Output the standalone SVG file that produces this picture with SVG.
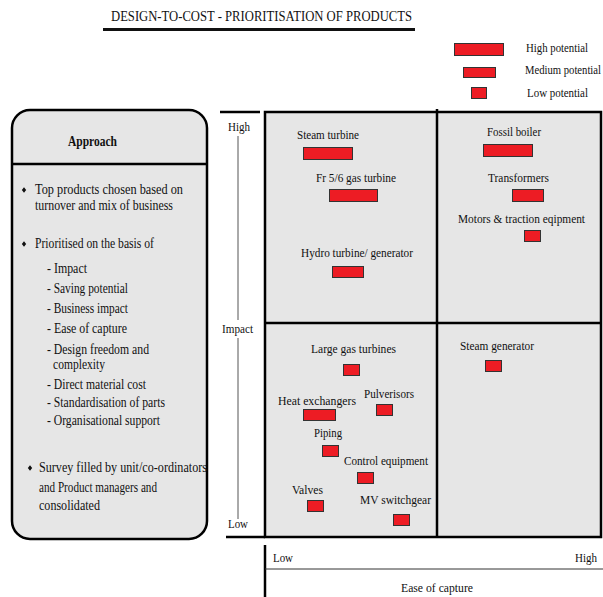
<svg xmlns="http://www.w3.org/2000/svg" width="603" height="597" viewBox="0 0 603 597">
<style>
text{font-family:"Liberation Serif","Times New Roman",serif;fill:#111;}
.t{font-size:14px;}
.m{font-size:13.5px;}
.bar{fill:#ed1c24;stroke:#333;stroke-width:1;}
.thick{stroke:#000;stroke-width:2.5;fill:none;}
.thin{stroke:#555;stroke-width:1;fill:none;}
</style>
<defs>
<polygon id="dia" points="0,-2.8 2.2,0 0,2.8 -2.2,0" fill="#111"/>
</defs>
<rect width="603" height="597" fill="#fff"/>
<g id="title">
<text x="111" y="21" font-size="14.5" textLength="301" lengthAdjust="spacingAndGlyphs">DESIGN-TO-COST  -  PRIORITISATION OF PRODUCTS</text>
<line x1="103" y1="29.5" x2="415" y2="29.5" stroke="#111" stroke-width="3"/>
</g>
<g id="legend">
<rect class="bar" x="454.5" y="43.5" width="49" height="12"/>
<rect class="bar" x="463.5" y="67.5" width="32" height="10"/>
<rect class="bar" x="471.5" y="87.5" width="15" height="11"/>
<text class="m" x="526" y="52" textLength="62" lengthAdjust="spacingAndGlyphs">High potential</text>
<text class="m" x="525" y="74" textLength="76" lengthAdjust="spacingAndGlyphs">Medium potential</text>
<text class="m" x="527" y="97" textLength="61" lengthAdjust="spacingAndGlyphs">Low potential</text>
</g>
<g id="approach">
<rect x="12" y="110" width="195" height="429" rx="18" ry="18" fill="#e6e6e6" stroke="#000" stroke-width="2.5"/>
<line class="thick" x1="12" y1="164" x2="207" y2="164"/>
<text x="68" y="146" font-size="14" font-weight="bold" textLength="49" lengthAdjust="spacingAndGlyphs">Approach</text>
<use href="#dia" x="24" y="190"/>
<text class="t" x="35" y="194" textLength="148" lengthAdjust="spacingAndGlyphs">Top products chosen  based on</text>
<text class="t" x="35" y="210" textLength="138" lengthAdjust="spacingAndGlyphs">turnover and  mix of business</text>
<use href="#dia" x="24" y="244"/>
<text class="t" x="35" y="248" textLength="119" lengthAdjust="spacingAndGlyphs">Prioritised on the basis of</text>
<text class="t" x="47" y="273" textLength="40" lengthAdjust="spacingAndGlyphs">- Impact</text>
<text class="t" x="47" y="293" textLength="81" lengthAdjust="spacingAndGlyphs">- Saving potential</text>
<text class="t" x="47" y="313" textLength="81" lengthAdjust="spacingAndGlyphs">- Business impact</text>
<text class="t" x="47" y="333" textLength="80" lengthAdjust="spacingAndGlyphs">- Ease of capture</text>
<text class="t" x="47" y="354" textLength="102" lengthAdjust="spacingAndGlyphs">- Design freedom and</text>
<text class="t" x="53" y="369" textLength="52" lengthAdjust="spacingAndGlyphs">complexity</text>
<text class="t" x="47" y="389" textLength="99" lengthAdjust="spacingAndGlyphs">- Direct material cost</text>
<text class="t" x="47" y="407" textLength="118" lengthAdjust="spacingAndGlyphs">- Standardisation of parts</text>
<text class="t" x="47" y="425" textLength="113" lengthAdjust="spacingAndGlyphs">- Organisational support</text>
<use href="#dia" x="30" y="468"/>
<text class="t" x="39" y="472" textLength="168" lengthAdjust="spacingAndGlyphs">Survey filled by unit/co-ordinators</text>
<text class="t" x="39" y="492" textLength="118" lengthAdjust="spacingAndGlyphs">and Product managers and</text>
<text class="t" x="39" y="510" textLength="61" lengthAdjust="spacingAndGlyphs">consolidated</text>
</g>
<g id="matrix">
<rect x="265" y="112" width="336" height="425" fill="#e6e6e6" stroke="#000" stroke-width="2.5"/>
<line class="thick" x1="437" y1="109" x2="437" y2="537"/>
<line class="thick" x1="265" y1="323" x2="601" y2="323"/>
</g>
<g id="axes">
<line class="thick" x1="220" y1="112" x2="260" y2="112"/>
<line class="thick" x1="226" y1="537" x2="265" y2="537"/>
<line class="thin" x1="238" y1="136" x2="238" y2="320"/>
<line class="thin" x1="238" y1="338" x2="238" y2="519"/>
<text class="m" x="228" y="131" textLength="22" lengthAdjust="spacingAndGlyphs">High</text>
<text class="m" x="222" y="333" textLength="31" lengthAdjust="spacingAndGlyphs">Impact</text>
<text class="m" x="228" y="528" textLength="20" lengthAdjust="spacingAndGlyphs">Low</text>
<line class="thick" x1="265" y1="545" x2="265" y2="597"/>
<line x1="265" y1="569" x2="603" y2="569" stroke="#333" stroke-width="1"/>
<text class="m" x="273" y="562" textLength="20" lengthAdjust="spacingAndGlyphs">Low</text>
<text class="m" x="575" y="562" textLength="22" lengthAdjust="spacingAndGlyphs">High</text>
<text class="m" x="401" y="592" textLength="72" lengthAdjust="spacingAndGlyphs">Ease of capture</text>
</g>
<g id="steam-turbine"><text class="m" x="297" y="139" textLength="62" lengthAdjust="spacingAndGlyphs">Steam turbine</text><rect class="bar" x="303.5" y="147.5" width="49" height="12"/></g>
<g id="fr-gas-turbine"><text class="m" x="316" y="182" textLength="80" lengthAdjust="spacingAndGlyphs">Fr 5/6 gas turbine</text><rect class="bar" x="329.5" y="189.5" width="48" height="12"/></g>
<g id="hydro-turbine"><text class="m" x="301" y="257" textLength="112" lengthAdjust="spacingAndGlyphs">Hydro turbine/ generator</text><rect class="bar" x="332.5" y="266.5" width="31" height="11"/></g>
<g id="fossil-boiler"><text class="m" x="487" y="136" textLength="54" lengthAdjust="spacingAndGlyphs">Fossil boiler</text><rect class="bar" x="483.5" y="144.5" width="49" height="12"/></g>
<g id="transformers"><text class="m" x="488" y="182" textLength="61" lengthAdjust="spacingAndGlyphs">Transformers</text><rect class="bar" x="512.5" y="189.5" width="31" height="12"/></g>
<g id="motors"><text class="m" x="458" y="223" textLength="127" lengthAdjust="spacingAndGlyphs">Motors &amp; traction eqipment</text><rect class="bar" x="524.5" y="230.5" width="16" height="11"/></g>
<g id="large-gas-turbines"><text class="m" x="311" y="353" textLength="85" lengthAdjust="spacingAndGlyphs">Large gas turbines</text><rect class="bar" x="343.5" y="364.5" width="16" height="11"/></g>
<g id="steam-generator"><text class="m" x="460" y="350" textLength="74" lengthAdjust="spacingAndGlyphs">Steam generator</text><rect class="bar" x="485.5" y="360.5" width="16" height="11"/></g>
<g id="heat-exchangers"><text class="m" x="278" y="405" textLength="78" lengthAdjust="spacingAndGlyphs">Heat exchangers</text><rect class="bar" x="303.5" y="409.5" width="32" height="11"/></g>
<g id="pulverisors"><text class="m" x="364" y="398" textLength="50" lengthAdjust="spacingAndGlyphs">Pulverisors</text><rect class="bar" x="376.5" y="404.5" width="16" height="11"/></g>
<g id="piping"><text class="m" x="314" y="437" textLength="28" lengthAdjust="spacingAndGlyphs">Piping</text><rect class="bar" x="322.5" y="445.5" width="16" height="11"/></g>
<g id="control-equipment"><text class="m" x="344" y="465" textLength="84" lengthAdjust="spacingAndGlyphs">Control equipment</text><rect class="bar" x="357.5" y="472.5" width="16" height="11"/></g>
<g id="valves"><text class="m" x="292" y="494" textLength="31" lengthAdjust="spacingAndGlyphs">Valves</text><rect class="bar" x="307.5" y="500.5" width="16" height="11"/></g>
<g id="mv-switchgear"><text class="m" x="360" y="504" textLength="71" lengthAdjust="spacingAndGlyphs">MV switchgear</text><rect class="bar" x="393.5" y="514.5" width="16" height="11"/></g>
</svg>
